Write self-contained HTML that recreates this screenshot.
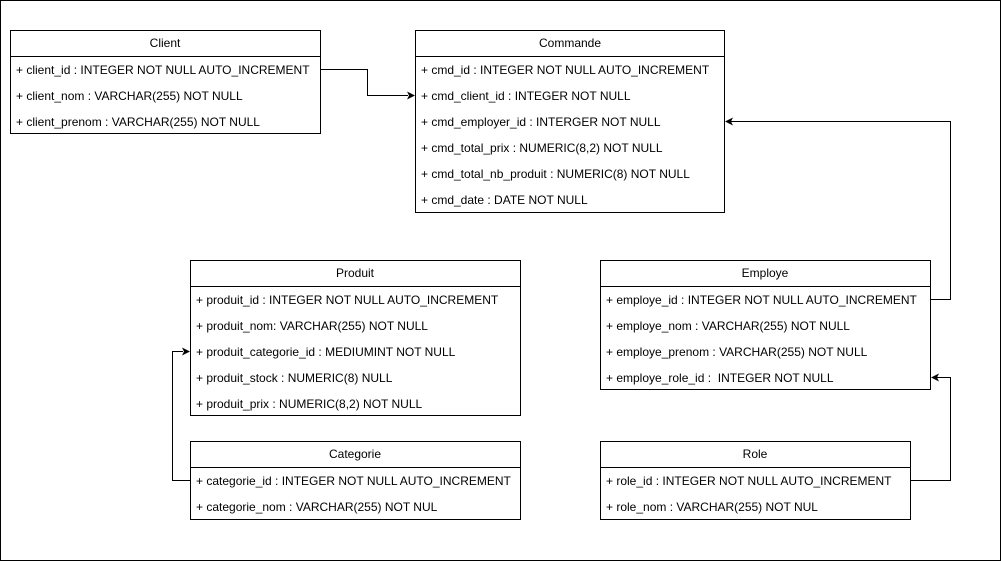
<!DOCTYPE html>
<html><head><style>
body{margin:0;background:#fff}
svg text{font-family:"Liberation Sans",Arial,sans-serif;font-size:12px;fill:#000}
</style></head><body>
<svg width="1001" height="561" xmlns="http://www.w3.org/2000/svg">
<rect x="0.5" y="0.5" width="1000" height="560" fill="#fff" stroke="#000"/>
<g fill="#fff" stroke="#000">
<rect x="10.5" y="30.5" width="310" height="103"/><line x1="10" y1="56.5" x2="321" y2="56.5"/>
<rect x="415.5" y="30.5" width="309" height="182"/><line x1="415" y1="56.5" x2="725" y2="56.5"/>
<rect x="190.5" y="260.5" width="330" height="155"/><line x1="190" y1="286.5" x2="521" y2="286.5"/>
<rect x="600.5" y="260.5" width="330" height="129"/><line x1="600" y1="286.5" x2="931" y2="286.5"/>
<rect x="190.5" y="441.5" width="330" height="78"/><line x1="190" y1="467.5" x2="521" y2="467.5"/>
<rect x="600.5" y="441.5" width="310" height="78"/><line x1="600" y1="467.5" x2="911" y2="467.5"/>
</g>
<g text-anchor="middle">
<text x="165" y="47">Client</text>
<text x="570" y="47">Commande</text>
<text x="355" y="277">Produit</text>
<text x="765" y="277">Employe</text>
<text x="355" y="458">Categorie</text>
<text x="755" y="458">Role</text>
</g>
<g>
<text x="16" y="74">+ client_id : INTEGER NOT NULL AUTO_INCREMENT</text>
<text x="16" y="100">+ client_nom : VARCHAR(255) NOT NULL</text>
<text x="16" y="126">+ client_prenom : VARCHAR(255) NOT NULL</text>
<text x="421" y="74">+ cmd_id : INTEGER NOT NULL AUTO_INCREMENT</text>
<text x="421" y="100">+ cmd_client_id : INTEGER NOT NULL</text>
<text x="421" y="126">+ cmd_employer_id : INTERGER NOT NULL</text>
<text x="421" y="152">+ cmd_total_prix : NUMERIC(8,2) NOT NULL</text>
<text x="421" y="178">+ cmd_total_nb_produit : NUMERIC(8) NOT NULL</text>
<text x="421" y="204">+ cmd_date : DATE NOT NULL</text>
<text x="196" y="304">+ produit_id : INTEGER NOT NULL AUTO_INCREMENT</text>
<text x="196" y="330">+ produit_nom: VARCHAR(255) NOT NULL</text>
<text x="196" y="356">+ produit_categorie_id : MEDIUMINT NOT NULL</text>
<text x="196" y="382">+ produit_stock : NUMERIC(8) NULL</text>
<text x="196" y="408">+ produit_prix : NUMERIC(8,2) NOT NULL</text>
<text x="606" y="304">+ employe_id : INTEGER NOT NULL AUTO_INCREMENT</text>
<text x="606" y="330">+ employe_nom : VARCHAR(255) NOT NULL</text>
<text x="606" y="356">+ employe_prenom : VARCHAR(255) NOT NULL</text>
<text x="606" y="382" xml:space="preserve">+ employe_role_id :  INTEGER NOT NULL</text>
<text x="196" y="485">+ categorie_id : INTEGER NOT NULL AUTO_INCREMENT</text>
<text x="196" y="511">+ categorie_nom : VARCHAR(255) NOT NUL</text>
<text x="606" y="485">+ role_id : INTEGER NOT NULL AUTO_INCREMENT</text>
<text x="606" y="511">+ role_nom : VARCHAR(255) NOT NUL</text>
</g>
<g fill="none" stroke="#000">
<polyline points="321,69.5 367.5,69.5 367.5,95.5 408,95.5"/>
<polyline points="931,299.5 950.5,299.5 950.5,121.5 731,121.5"/>
<polyline points="911,480.5 950.5,480.5 950.5,377.5 937,377.5"/>
<polyline points="190,480.5 172.5,480.5 172.5,351.5 183,351.5"/>
</g>
<g fill="#000">
<polygon points="415,95.5 407,91.5 409,95.5 407,99.5"/>
<polygon points="725,121.5 733,117.5 731,121.5 733,125.5"/>
<polygon points="931,377.5 939,373.5 937,377.5 939,381.5"/>
<polygon points="190,351.5 182,347.5 184,351.5 182,355.5"/>
</g>
</svg>
</body></html>
